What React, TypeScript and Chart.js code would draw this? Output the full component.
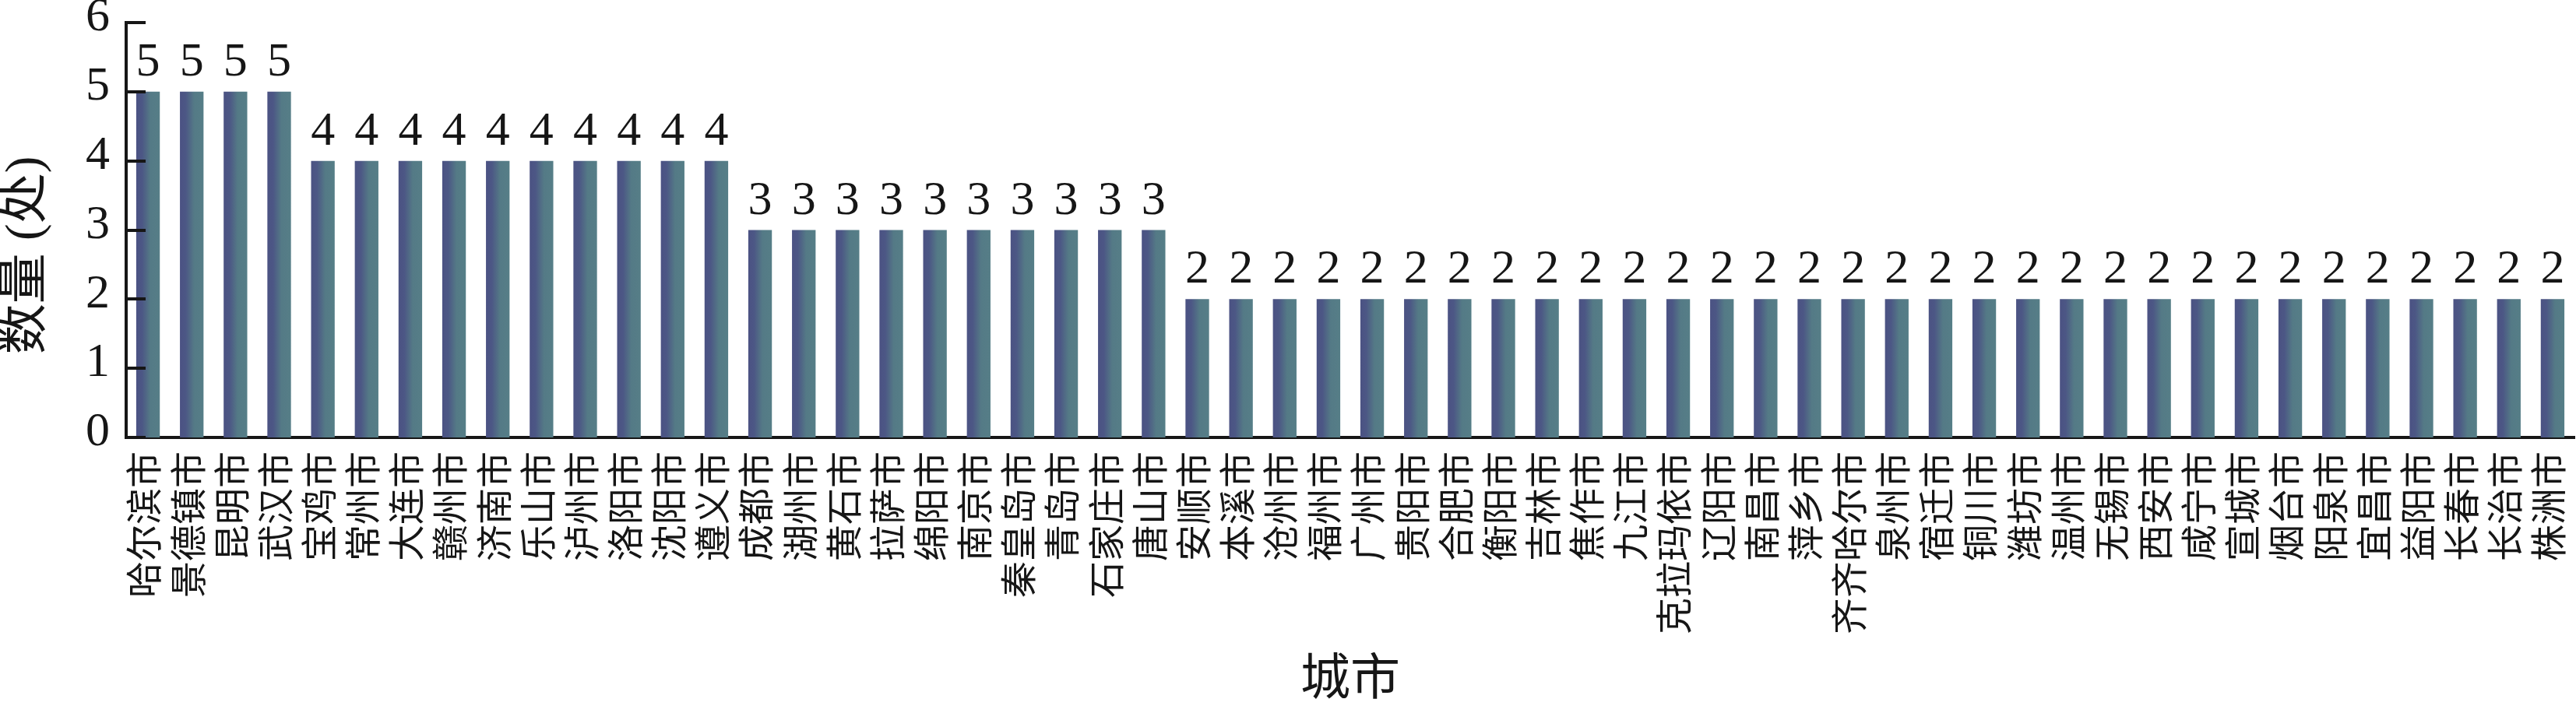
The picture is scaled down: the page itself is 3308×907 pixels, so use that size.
import React, { useEffect, useRef } from "react";
import { Chart, registerables } from "chart.js";

Chart.register(...registerables);

const categories = [
  "哈尔滨市", "景德镇市", "昆明市", "武汉市",
  "宝鸡市", "常州市", "大连市", "赣州市", "济南市", "乐山市", "泸州市", "洛阳市", "沈阳市", "遵义市",
  "成都市", "湖州市", "黄石市", "拉萨市", "绵阳市", "南京市", "秦皇岛市", "青岛市", "石家庄市", "唐山市",
  "安顺市", "本溪市", "沧州市", "福州市", "广州市", "贵阳市", "合肥市", "衡阳市", "吉林市", "焦作市",
  "九江市", "克拉玛依市", "辽阳市", "南昌市", "萍乡市", "齐齐哈尔市", "泉州市", "宿迁市", "铜川市", "潍坊市",
  "温州市", "无锡市", "西安市", "咸宁市", "宣城市", "烟台市", "阳泉市", "宜昌市", "益阳市", "长春市",
  "长治市", "株洲市",
];

const counts = [
  5, 5, 5, 5,
  4, 4, 4, 4, 4, 4, 4, 4, 4, 4,
  3, 3, 3, 3, 3, 3, 3, 3, 3, 3,
  2, 2, 2, 2, 2, 2, 2, 2, 2, 2,
  2, 2, 2, 2, 2, 2, 2, 2, 2, 2,
  2, 2, 2, 2, 2, 2, 2, 2, 2, 2,
  2, 2,
];

const yMin = 0;
const yMax = 6;
const yStep = 1;
const yTitle = "数量 (处)    ";
const xTitle = "城市";

const FONT = "'Liberation Serif', 'Noto Sans CJK SC', serif";
const INK = "#161616";

const gradientBars = {
  id: "gradientBars",
  beforeDatasetsDraw(chart: any) {
    const ctx = chart.ctx;
    chart.getDatasetMeta(0).data.forEach((bar: any) => {
      const { x, width } = bar.getProps(["x", "width"], true);
      const g = ctx.createLinearGradient(x - width / 2, 0, x + width / 2, 0);
      g.addColorStop(0, "#4b5283");
      g.addColorStop(0.25, "#4c5785");
      g.addColorStop(0.6, "#547a86");
      g.addColorStop(1, "#567e87");
      bar.options = Object.assign({}, bar.options, { backgroundColor: g, $shared: false });
    });
  },
};

const valueLabels = {
  id: "valueLabels",
  afterDatasetsDraw(chart: any) {
    const ctx = chart.ctx;
    const ds = chart.data.datasets[0];
    ctx.save();
    ctx.font = `62px ${FONT}`;
    ctx.fillStyle = INK;
    ctx.textAlign = "center";
    ctx.textBaseline = "alphabetic";
    chart.getDatasetMeta(0).data.forEach((bar: any, i: number) => {
      const { x, y } = bar.getProps(["x", "y"], true);
      ctx.fillText(String(ds.data[i]), x, y - 21);
    });
    ctx.restore();
  },
};

const inwardTicks = {
  id: "inwardTicks",
  afterDraw(chart: any) {
    const ctx = chart.ctx;
    const ys = chart.scales.y;
    const left = chart.chartArea.left;
    ctx.save();
    ctx.strokeStyle = INK;
    ctx.lineWidth = 4;
    ctx.lineCap = "butt";
    ys.ticks.forEach((t: any) => {
      const py = Math.round(ys.getPixelForValue(t.value));
      ctx.beginPath();
      ctx.moveTo(left, py);
      ctx.lineTo(left + 25, py);
      ctx.stroke();
    });
    ctx.restore();
  },
};

export default function App() {
  const ref = useRef<HTMLCanvasElement | null>(null);

  useEffect(() => {
    if (!ref.current) return;
    const chart = new Chart(ref.current, {
      type: "bar",
      data: {
        labels: categories,
        datasets: [
          {
            data: counts,
            backgroundColor: "#50688a",
            borderWidth: 0,
            barPercentage: 0.54,
            categoryPercentage: 1,
          },
        ],
      },
      options: {
        animation: false,
        responsive: true,
        maintainAspectRatio: false,
        devicePixelRatio: 1,
        layout: { padding: { top: 29, right: 2, left: 0, bottom: 0 } },
        plugins: {
          legend: { display: false },
          tooltip: { enabled: false },
        },
        scales: {
          x: {
            grid: { display: false, drawTicks: false },
            border: { display: true, color: INK, width: 4 },
            ticks: {
              autoSkip: false,
              maxRotation: 90,
              minRotation: 90,
              padding: 18,
              color: INK,
              font: { family: FONT, size: 47, lineHeight: 1 },
            },
            title: {
              display: true,
              text: xTitle,
              color: INK,
              font: { family: FONT, size: 64, lineHeight: 1 },
              padding: { top: 0, bottom: 0 },
            },
            afterFit: (s: any) => {
              s.height = 345;
              s.paddingLeft = 0;
              s.paddingRight = 0;
            },
          },
          y: {
            min: yMin,
            max: yMax,
            grid: { display: false, drawTicks: false },
            border: { display: true, color: INK, width: 4 },
            ticks: {
              stepSize: yStep,
              padding: 21,
              labelOffset: -6,
              color: INK,
              font: { family: FONT, size: 62, lineHeight: 0.9 },
            },
            title: {
              display: true,
              text: yTitle,
              color: INK,
              font: { family: FONT, size: 65, lineHeight: 1 },
              padding: { top: 2, bottom: 0 },
            },
            afterFit: (s: any) => {
              s.width = 162;
              s.paddingTop = 0;
              s.paddingBottom = 0;
            },
          },
        },
      },
      plugins: [gradientBars, valueLabels, inwardTicks],
    });
    return () => chart.destroy();
  }, []);

  return (
    <div style={{ position: "fixed", left: 0, top: 0, width: 3308, height: 907, background: "#fff" }}>
      <canvas ref={ref} />
    </div>
  );
}
